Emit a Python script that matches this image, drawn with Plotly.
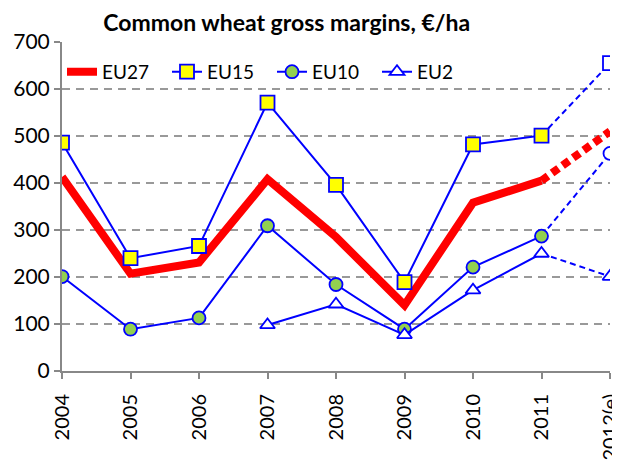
import plotly.graph_objects as go

years = ["2004", "2005", "2006", "2007", "2008", "2009", "2010", "2011", "2012(e)"]
eu27 = [413, 207, 231, 408, 285, 140, 358, 405, 510]
eu15 = [486, 240, 266, 571, 396, 189, 482, 501, 655]
eu10 = [201, 89, 113, 309, 184, 89, 221, 287, 463]
eu2 = [None, None, None, 98, 142, 77, 172, 250, 201]

BLUE = "#0000FF"
RED = "#FF0000"
FONT = "Lato, 'Noto Sans', sans-serif"

fig = go.Figure()

# projection segments (2011 -> 2012(e))
proj = years[7:]
fig.add_trace(go.Scatter(x=proj, y=eu27[7:], mode="lines", showlegend=False,
                         line=dict(color=RED, width=8, dash="8px,5px"), hoverinfo="skip"))
for vals in (eu15, eu10, eu2):
    fig.add_trace(go.Scatter(x=proj, y=vals[7:], mode="lines", showlegend=False,
                             line=dict(color=BLUE, width=2, dash="6px,4px"), hoverinfo="skip"))

# main series
main = years[:8]
fig.add_trace(go.Scatter(x=main, y=eu27[:8], mode="lines", name="EU27",
                         line=dict(color=RED, width=8)))
fig.add_trace(go.Scatter(x=main, y=eu15[:8], mode="lines+markers", name="EU15",
                         line=dict(color=BLUE, width=2),
                         marker=dict(symbol="square", size=14, color="#FFFF00",
                                     line=dict(color=BLUE, width=1.8))))
fig.add_trace(go.Scatter(x=main, y=eu10[:8], mode="lines+markers", name="EU10",
                         line=dict(color=BLUE, width=2),
                         marker=dict(symbol="circle", size=13, color="#92D050",
                                     line=dict(color=BLUE, width=1.8))))
fig.add_trace(go.Scatter(x=main, y=eu2[:8], mode="lines+markers", name="EU2",
                         line=dict(color=BLUE, width=2),
                         marker=dict(symbol="triangle-up", size=13, color="white",
                                     line=dict(color=BLUE, width=1.8))))

# projection end markers (open)
for vals, sym in ((eu15, "square"), (eu10, "circle"), (eu2, "triangle-up")):
    fig.add_trace(go.Scatter(x=[years[8]], y=[vals[8]], mode="markers", showlegend=False,
                             marker=dict(symbol=sym, size=14 if sym == "square" else 13,
                                         color="white",
                                         line=dict(color=BLUE, width=1.8)),
                             hoverinfo="skip"))

# the page body adds an 8px offset, so the figure is sized to fit the window
fig.update_layout(
    width=612, height=453,
    margin=dict(l=54, r=10, t=34, b=90, autoexpand=False),
    paper_bgcolor="white", plot_bgcolor="white",
    font=dict(family=FONT, size=19, color="black"),
    title=dict(text="<b>Common wheat gross margins, €/ha</b>",
               font=dict(family=FONT, size=23, color="black"),
               x=0.41, xref="paper", xanchor="center", y=0.967, yanchor="middle",
               automargin=False),
    legend=dict(orientation="h", x=0.0, y=0.967, xanchor="left", yanchor="top",
                bgcolor="rgba(0,0,0,0)", font=dict(size=19),
                entrywidth=60, entrywidthmode="pixels", traceorder="normal"),
    showlegend=True,
)
fig.update_xaxes(type="category", categoryorder="array", categoryarray=years,
                 range=[0, 8], tickangle=-90, showgrid=False, automargin=False,
                 showline=True, linecolor="#888888", linewidth=2,
                 ticks="outside", ticklen=6, tickcolor="#888888", tickwidth=1.5,
                 ticklabelstandoff=7,
                 tickfont=dict(size=20), zeroline=False)
fig.update_yaxes(range=[0, 700], dtick=100, tick0=0, automargin=False,
                 showgrid=True, gridcolor="#999999", gridwidth=1.5, griddash="8px,6px",
                 showline=True, linecolor="#888888", linewidth=2,
                 ticks="outside", ticklen=6, tickcolor="#888888", tickwidth=1.5,
                 tickfont=dict(size=21), zeroline=False)

fig.write_html("out.html")
